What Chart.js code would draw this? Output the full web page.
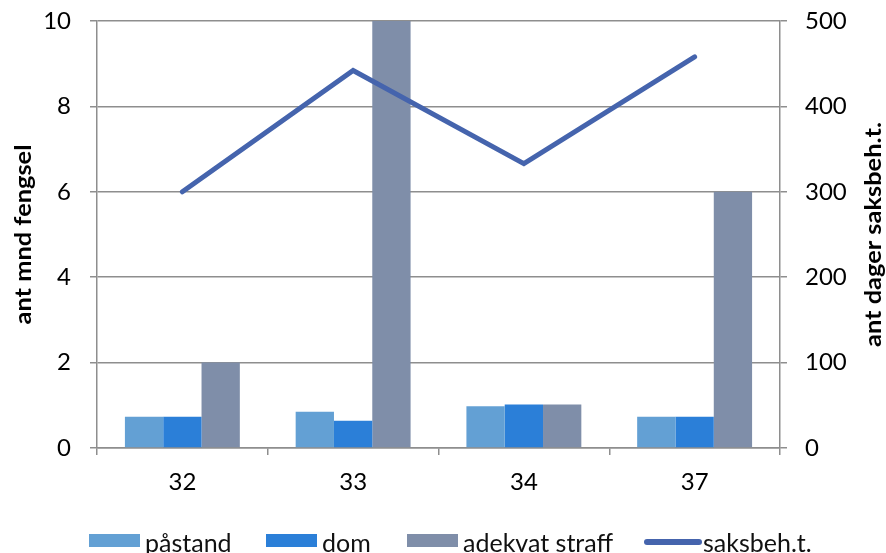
<!DOCTYPE html>
<html>
<head>
<meta charset="utf-8">
<script src="https://cdn.jsdelivr.net/npm/chart.js@4.4.1/dist/chart.umd.min.js"></script>
<style>
  html, body { margin: 0; padding: 0; background: #fff; }
  #wrap { position: relative; width: 886px; height: 553px; overflow: hidden; }
  #chart { position: absolute; left: 0; top: 0; }
  .lg { position: absolute; top: 529px; font: 25px Lato, sans-serif; color: #111;
        white-space: nowrap; line-height: 26px; }
  .sw { position: absolute; }
</style>
</head>
<body>
<div id="wrap">
  <canvas id="chart" width="886" height="553"></canvas>
  <div id="legend"></div>
</div>
<script>
/* Data */
const categories = ['32', '33', '34', '37'];
const pastand    = [0.73, 0.85, 0.98, 0.73];
const dom        = [0.73, 0.64, 1.02, 0.73];
const adekvat    = [2, 10, 1.02, 6];
const saksbeh    = [300, 442, 333, 458];

const seriesNames = ['påstand', 'dom', 'adekvat straff', 'saksbeh.t.'];
const colors = ['#63a0d4', '#2b7fd8', '#7f8ea9', '#4564ad'];

const leftTicks  = { min: 0, max: 10,  step: 2 };
const rightTicks = { min: 0, max: 500, step: 100 };

const GRID = '#8e8e8e';
const FONT = 'Lato, sans-serif';

// axis titles drawn by hand so both read bottom-to-top, like the original
const axisTitles = {
  id: 'axisTitles',
  afterDraw(c){
    const ctx = c.ctx;
    const mid = (c.chartArea.top + c.chartArea.bottom) / 2;
    const draw = (text, x, len) => {
      ctx.save();
      ctx.font = 'bold 22px ' + FONT;
      ctx.fillStyle = '#000';
      ctx.textAlign = 'center';
      ctx.textBaseline = 'middle';
      ctx.translate(x, mid);
      ctx.rotate(-Math.PI / 2);
      const w = ctx.measureText(text).width;
      ctx.scale(len / w, 1);
      ctx.fillText(text, 0, 0);
      ctx.restore();
    };
    draw('ant mnd fengsel', 24, 180);
    draw('ant dager saksbeh.t.', 874, 225);
  }
};

const noPad = s => { s.paddingTop = 0; s.paddingBottom = 0; s.paddingLeft = 0; s.paddingRight = 0; };

const barDs = (i, data) => ({
  type: 'bar',
  label: seriesNames[i],
  data,
  backgroundColor: colors[i],
  borderWidth: 0,
  yAxisID: 'y',
  order: 1,
  barPercentage: 1,
  categoryPercentage: 0.673
});

new Chart(document.getElementById('chart').getContext('2d'), {
  data: {
    labels: categories,
    datasets: [
      barDs(0, pastand),
      barDs(1, dom),
      barDs(2, adekvat),
      {
        type: 'line',
        label: seriesNames[3],
        data: saksbeh,
        borderColor: colors[3],
        backgroundColor: colors[3],
        borderWidth: 5,
        borderCapStyle: 'round',
        pointRadius: 0,
        tension: 0,
        yAxisID: 'y1',
        order: 0
      }
    ]
  },
  options: {
    responsive: false,
    animation: false,
    layout: { padding: { top: 21, left: 0, right: 0, bottom: 0 } },
    plugins: { legend: { display: false }, tooltip: { enabled: false } },
    scales: {
      x: {
        offset: true,
        grid: { offset: true, drawOnChartArea: false, drawTicks: true, tickLength: 7, color: GRID, lineWidth: 1.5 },
        border: { color: GRID, width: 1.5 },
        ticks: { color: '#000', font: { family: FONT, size: 24 }, padding: 13 },
        afterFit(s){ s.height = 105; noPad(s); }
      },
      y: {
        position: 'left',
        min: leftTicks.min, max: leftTicks.max,
        ticks: { stepSize: leftTicks.step, color: '#000', font: { family: FONT, size: 24 }, padding: 19 },
        grid: { color: GRID, lineWidth: 1.5, tickLength: 7 },
        border: { color: GRID, width: 1.5 },
        afterFit(s){ s.width = 97; noPad(s); }
      },
      y1: {
        position: 'right',
        min: rightTicks.min, max: rightTicks.max,
        ticks: { stepSize: rightTicks.step, color: '#000', font: { family: FONT, size: 24 }, padding: 18 },
        grid: { drawOnChartArea: false, color: GRID, lineWidth: 1.5, tickLength: 7 },
        border: { color: GRID, width: 1.5 },
        afterFit(s){ s.width = 106; noPad(s); }
      }
    }
  },
  plugins: [axisTitles]
});

/* HTML legend */
const legendPos = [
  { box: 89,  text: 145 },
  { box: 266, text: 322 },
  { box: 407, text: 463 },
  { box: 644, text: 703 }
];
const legend = document.getElementById('legend');
seriesNames.forEach((name, i) => {
  const sw = document.createElement('div');
  sw.className = 'sw';
  const isLine = i === 3;
  sw.style.left = legendPos[i].box + 'px';
  sw.style.top = (isLine ? 539 : 534) + 'px';
  sw.style.width = (isLine ? 58 : 51) + 'px';
  sw.style.height = (isLine ? 6 : 13) + 'px';
  sw.style.background = colors[i];
  if(isLine) sw.style.borderRadius = '3px';
  legend.appendChild(sw);

  const t = document.createElement('div');
  t.className = 'lg';
  t.style.left = legendPos[i].text + 'px';
  t.textContent = name;
  legend.appendChild(t);
});
</script>
</body>
</html>
